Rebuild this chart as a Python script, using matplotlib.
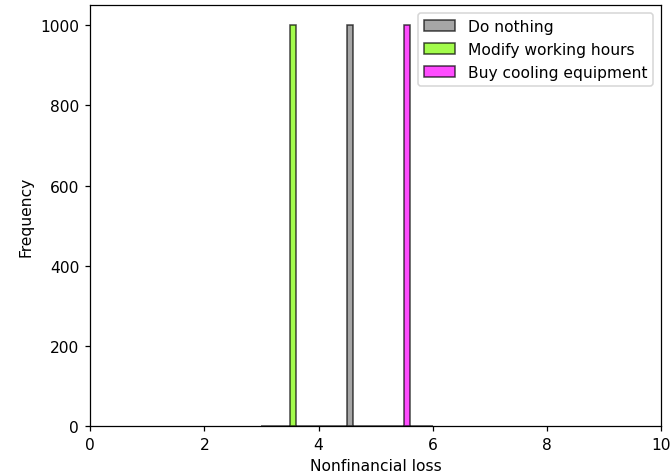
import numpy as np
import matplotlib.pyplot as plt

# decision options and their simulated nonfinancial loss (all runs identical)
options = ['Do nothing', 'Modify working hours', 'Buy cooling equipment']
losses = [4.5, 3.5, 5.5]
n_runs = 1000
colors = ['gray', 'lawngreen', 'magenta']

dpi = 112
fig = plt.figure(figsize=(672 / dpi, 474 / dpi), dpi=dpi)
ax = fig.add_axes([0.134, 0.099, 0.850, 0.888])

for name, loss, col in zip(options, losses, colors):
    ax.hist(np.full(n_runs, loss), bins=10, color=col, alpha=0.7,
            edgecolor='black', label=name)

ax.set_xlim(0, 10)
ax.set_xlabel('Nonfinancial loss')
ax.set_ylabel('Frequency')
ax.legend(loc='upper right')

fig.savefig('out.png', dpi=dpi)
